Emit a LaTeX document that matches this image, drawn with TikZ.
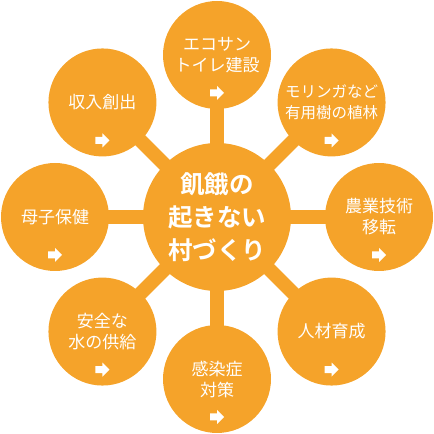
\documentclass[tikz,border=0pt]{standalone}
\usepackage{fontspec}
\newfontfamily\jpfont[BoldFont={Noto Sans CJK JP Bold}]{Noto Sans CJK JP}
\definecolor{kforange}{HTML}{F5A32A}
\usepackage{tikz}
\usetikzlibrary{calc,backgrounds}

\tikzset{
  hub/.style={circle, fill=kforange, minimum size=148pt, inner sep=0pt,
    text=white, align=center, font=\jpfont\bfseries\fontsize{24.5}{33}\selectfont},
  topic/.style={circle, fill=kforange, minimum size=108pt, inner sep=0pt,
    text=white, align=center, font=\jpfont\fontsize{17}{21}\selectfont},
  spoke/.style={draw=kforange, line width=14pt},
  goarrow/.pic={
    \fill[white] (-7,-3.5) -- (0,-3.5) -- (0,-7) -- (7,0) -- (0,7) -- (0,3.5) -- (-7,3.5) -- cycle;
  }
}

\begin{document}
\begin{tikzpicture}[x=1pt, y=1pt]
  \useasboundingbox (0,0) rectangle (434,434);

  % centre
  \node[hub] (hub) at (217,217) {飢餓の\\起きない\\村づくり};

  % themes round the centre
  \node[topic] (toilet)  at ($(hub)+(90:162)$)  {エコサン\\トイレ建設};
  \node[topic, font=\jpfont\fontsize{15.5}{21}\selectfont]
               (moringa) at ($(hub)+(45:162)$)  {モリンガなど\\有用樹の植林};
  \node[topic] (farming) at ($(hub)+(0:162)$)   {農業技術\\移転};
  \node[topic] (people)  at ($(hub)+(-45:162)$) {人材育成};
  \node[topic] (disease) at ($(hub)+(-90:162)$) {感染症\\対策};
  \node[topic] (water)   at ($(hub)+(-135:162)$){安全な\\水の供給};
  \node[topic] (mother)  at ($(hub)+(180:162)$) {母子保健};
  \node[topic] (income)  at ($(hub)+(135:162)$) {収入創出};

  % spokes
  \begin{scope}[on background layer]
    \draw[spoke] (hub.center) -- (toilet.center);
    \draw[spoke] (hub.center) -- (moringa.center);
    \draw[spoke] (hub.center) -- (farming.center);
    \draw[spoke] (hub.center) -- (people.center);
    \draw[spoke] (hub.center) -- (disease.center);
    \draw[spoke] (hub.center) -- (water.center);
    \draw[spoke] (hub.center) -- (mother.center);
    \draw[spoke] (hub.center) -- (income.center);
  \end{scope}

  % link arrows
  \pic at ($(toilet)+(0,-38)$)  {goarrow};
  \pic at ($(moringa)+(0,-38)$) {goarrow};
  \pic at ($(farming)+(0,-38)$) {goarrow};
  \pic at ($(people)+(0,-38)$)  {goarrow};
  \pic at ($(disease)+(0,-38)$) {goarrow};
  \pic at ($(water)+(0,-38)$)   {goarrow};
  \pic at ($(mother)+(0,-38)$)  {goarrow};
  \pic at ($(income)+(0,-38)$)  {goarrow};
\end{tikzpicture}
\end{document}
